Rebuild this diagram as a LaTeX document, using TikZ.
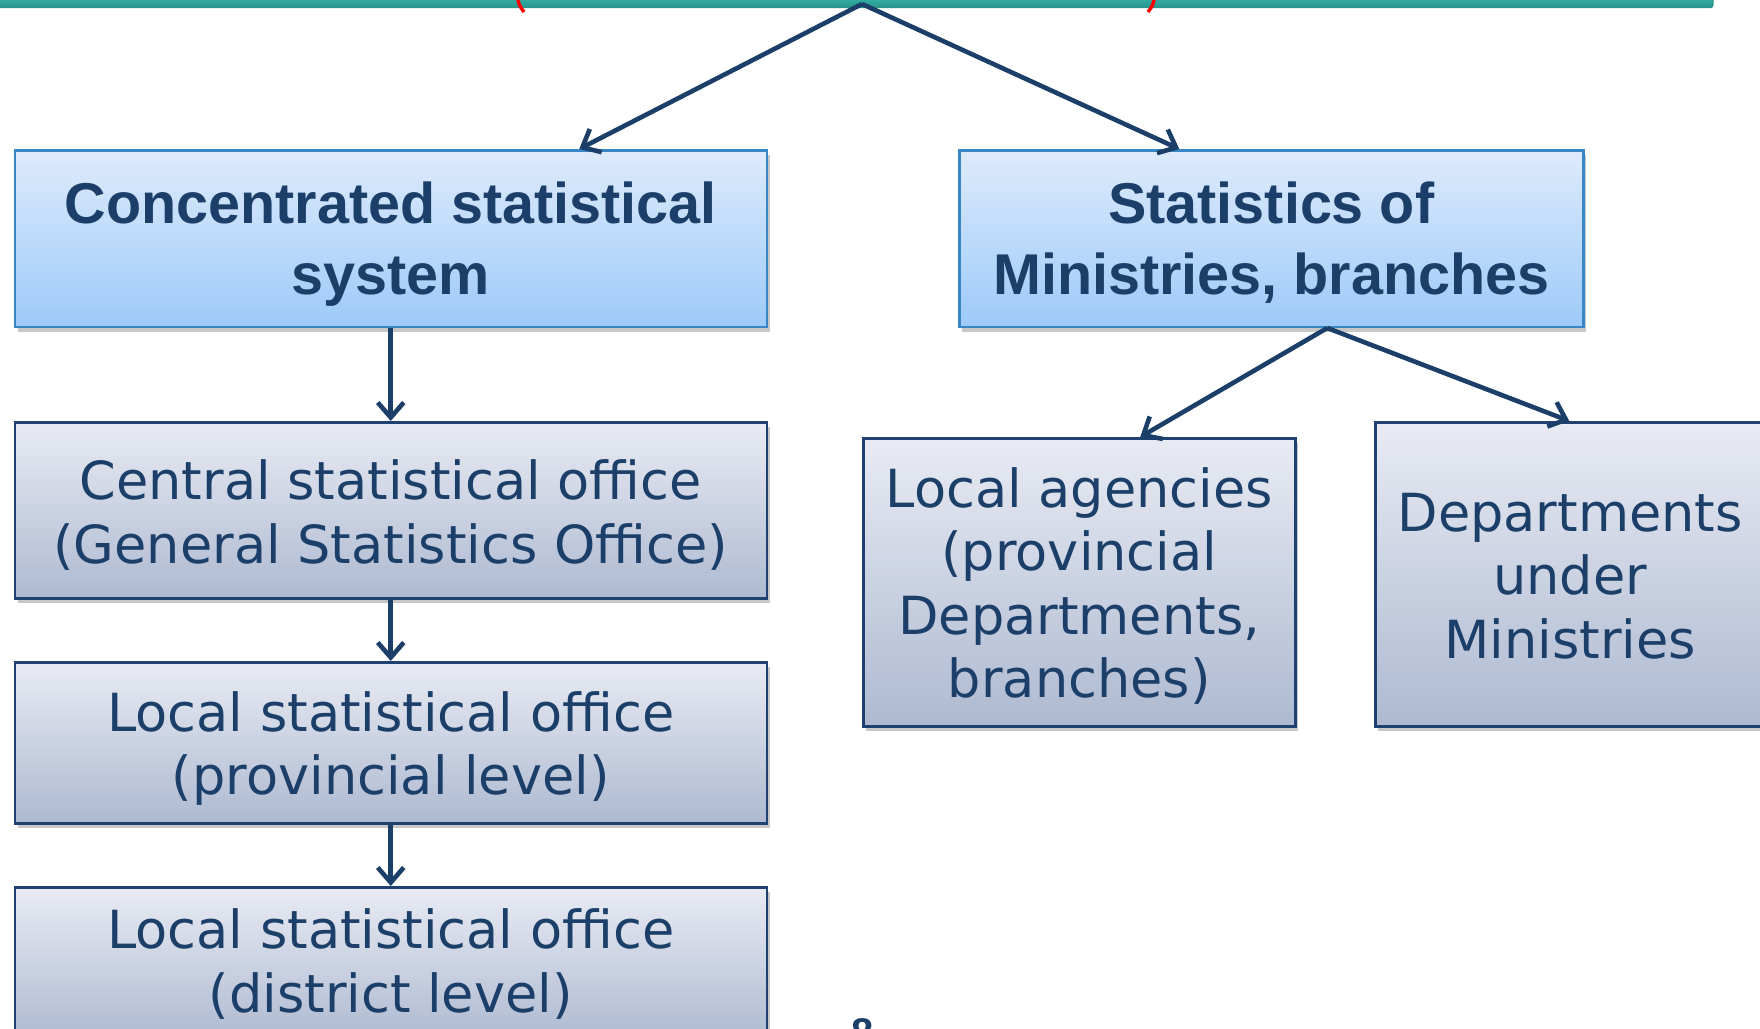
\documentclass[tikz,border=0pt]{standalone}
\usepackage{fontspec}
\setmainfont{Liberation Sans}
\newfontfamily\bodyfont{DejaVu Sans}
\usetikzlibrary{arrows.meta,shadows,calc}
\definecolor{navy}{HTML}{1B3F69}
\definecolor{topA}{HTML}{DEEBFC}
\definecolor{topB}{HTML}{9DCAF9}
\definecolor{topEdge}{HTML}{3A87C8}
\definecolor{lowA}{HTML}{E8EBF3}
\definecolor{lowB}{HTML}{AEB9D1}
\definecolor{lowEdge}{HTML}{1F4170}
\definecolor{tealA}{HTML}{3CC6BA}
\definecolor{tealB}{HTML}{2A978D}
\newcommand{\upstrut}[1]{\rule{0pt}{#1pt}}
\begin{document}
\begin{tikzpicture}[x=1pt,y=-1pt,
  boxbase/.style={inner sep=0pt, anchor=north west, align=center, text=navy,
    drop shadow={shadow xshift=3pt, shadow yshift=-5pt, opacity=0.22, fill=black}},
  headbox/.style={boxbase, draw=topEdge, line width=2.5pt, top color=topA, bottom color=topB,
    font=\fontsize{57.5}{71}\selectfont\bfseries},
  lowbox/.style={boxbase, draw=lowEdge, line width=2.5pt, top color=lowA, bottom color=lowB,
    font=\bodyfont\fontsize{52.5}{63.5}\selectfont},
  conn/.style={draw=navy, line width=4.6pt, -{Straight Barb[length=15pt,width=26pt]}}
]
\useasboundingbox (0,0) rectangle (1760,1028);
\clip (0,0) rectangle (1760,1028);
\fill[white] (0,0) rectangle (1760,1028);

% top bar (cut off)
\node[draw=tealB, line width=1.5pt, top color=tealA, bottom color=tealB, inner sep=0pt,
  minimum width=1717pt, minimum height=18pt, anchor=south west, rounded corners=2pt] (bar) at (-5,8) {};
\draw[red, line width=3.5pt] (518,-1) .. controls (519,5) .. (524,12);
\draw[red, line width=3.5pt] (1154,-1) .. controls (1153,5) .. (1148,12);
\coordinate (apex) at (862,4);

% boxes
\node[headbox, minimum width=752pt, minimum height=176.5pt] (b1) at (13.5,149)
  {\upstrut{53}Concentrated statistical\\system};
\node[headbox, minimum width=624pt, minimum height=176.5pt] (b2) at (958,149)
  {\upstrut{50}Statistics of\\Ministries, branches};
\node[lowbox, minimum width=752pt, minimum height=176pt] (b3) at (13.5,421)
  {\upstrut{49}Central statistical office\\(General Statistics Office)};
\node[lowbox, minimum width=752pt, minimum height=161pt] (b4) at (13.5,661)
  {\upstrut{51}Local statistical office\\(provincial level)};
\node[lowbox, minimum width=752pt, minimum height=154pt] (b5) at (13.5,886)
  {Local statistical office\\(district level)};
\node[lowbox, minimum width=432pt, minimum height=288pt] (b6) at (862,437)
  {\upstrut{47}Local agencies\\(provincial\\Departments,\\branches)};
\node[lowbox, minimum width=390pt, minimum height=304pt] (b7) at (1374,421)
  {\upstrut{42}Departments\\under\\Ministries};

% page number (cut off at the bottom edge, as in the reference)
\node[font=\fontsize{40}{40}\selectfont\bfseries, text=navy, inner sep=0pt, anchor=north] (pg) at (863,1018) {8};

% connectors
\draw[conn] (apex) -- ([xshift=188.5pt]b1.north);
\draw[conn] (apex) -- ([xshift=-92pt]b2.north);
\draw[conn] (b1.south) -- (b3.north);
\draw[conn] (b3.south) -- (b4.north);
\draw[conn] (b4.south) -- (b5.north);
\coordinate (b2out) at ([xshift=56pt]b2.south);
\draw[conn] (b2out) -- ([xshift=61pt]b6.north);
\draw[conn] (b2out) -- ([xshift=-1pt]b7.north);
\end{tikzpicture}
\end{document}
